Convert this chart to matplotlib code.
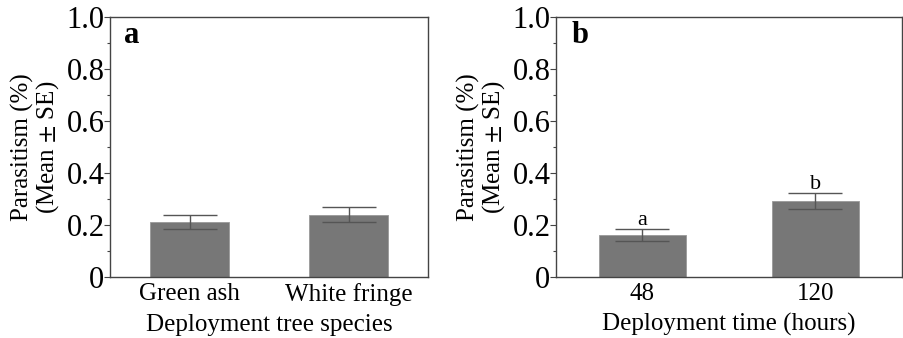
import numpy as np
import matplotlib
matplotlib.use("Agg")
import matplotlib.pyplot as plt
from matplotlib.ticker import MultipleLocator, FuncFormatter

# DATA
species = ["Green ash", "White fringe"]
species_mean = [0.213, 0.239]
species_se = [0.027, 0.029]

hours = ["48", "120"]
hours_mean = [0.160, 0.292]
hours_se = [0.023, 0.030]
hours_letters = ["a", "b"]

BAR_COLOR = "#777777"
ERR_COLOR = "#555555"
SPINE_COLOR = "#444444"

plt.rcParams['font.family'] = ['Liberation Serif', 'DejaVu Serif']
plt.rcParams['mathtext.fontset'] = 'stix'

fig = plt.figure(figsize=(9.04, 3.38), dpi=100)
ax_a = fig.add_axes([0.1217, 0.1805, 0.3518, 0.7692])
ax_b = fig.add_axes([0.6150, 0.1805, 0.3828, 0.7692])


def fmt(v, pos):
    return "0" if abs(v) < 1e-9 else f"{v:.1f}"


def style_axes(ax, labels, means, ses, xlabel, panel):
    x = np.arange(len(labels))
    ax.bar(x, means, width=0.5, color=BAR_COLOR, edgecolor="#999999", linewidth=0.6, zorder=2)
    ax.errorbar(x, means, yerr=ses, fmt="none", ecolor=ERR_COLOR, elinewidth=1.0,
                capsize=19.5, capthick=1.0, zorder=3)
    ax.set_xlim(-0.5, 1.5)
    ax.set_ylim(0, 1.0)
    ax.set_xticks(x)
    ax.set_xticklabels(labels, fontsize=18)
    ax.tick_params(axis="x", length=0, pad=4)
    ax.yaxis.set_major_locator(MultipleLocator(0.2))
    ax.yaxis.set_minor_locator(MultipleLocator(0.1))
    ax.yaxis.set_major_formatter(FuncFormatter(fmt))
    ax.tick_params(axis="y", which="major", labelsize=22, length=4, width=0.8,
                   color=SPINE_COLOR, pad=0)
    ax.tick_params(axis="y", which="minor", length=2, width=0.8, color=SPINE_COLOR)
    for s in ax.spines.values():
        s.set_color(SPINE_COLOR)
        s.set_linewidth(1.0)
    ax.set_xlabel(xlabel, fontsize=18, labelpad=6)
    ax.set_ylabel("Parasitism (%)\n(Mean $\\pm$ SE)", fontsize=18, labelpad=4,
                  linespacing=1.0)
    ax.text(0.045, 0.93, panel, transform=ax.transAxes, fontsize=22,
            fontweight="bold", va="center", ha="left")


style_axes(ax_a, species, species_mean, species_se, "Deployment tree species", "a")
style_axes(ax_b, hours, hours_mean, hours_se, "Deployment time (hours)", "b")

for i, (m, s, t) in enumerate(zip(hours_mean, hours_se, hours_letters)):
    ax_b.text(i, m + s + 0.035, t, ha="center", va="center", fontsize=16)

fig.savefig("out.png", dpi=100)
